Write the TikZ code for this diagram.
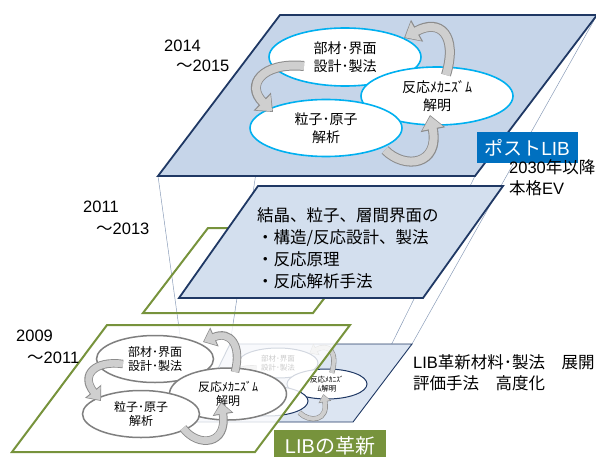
\documentclass[tikz,border=0pt]{standalone}
\usepackage{fontspec}
\setmainfont{Liberation Sans}
\newfontfamily\jp{Noto Sans CJK JP}
\usetikzlibrary{arrows.meta,shapes.geometric}
\definecolor{navy}{HTML}{1F3864}
\definecolor{topfill}{HTML}{C6D5E9}
\definecolor{midfill}{HTML}{D3DFEE}
\definecolor{ghostfill}{HTML}{DCE5F2}
\definecolor{leaf}{HTML}{77933C}
\definecolor{cyanline}{HTML}{00B0F0}
\definecolor{postblue}{HTML}{0070C0}
\definecolor{thinline}{HTML}{8A9CB8}
\definecolor{arrowedge}{HTML}{8C8C8C}
\definecolor{arrowfill}{HTML}{CFCFCF}
\definecolor{ellgrey}{HTML}{7F7F7F}
\newcommand\blockarr[2]{\draw[#1out] #2; \draw[#1in] #2;}
\begin{document}
\begin{tikzpicture}[x=1pt,y=-1pt,
  plane/.style={draw=navy, line width=1.8pt, line join=miter},
  greenplane/.style={draw=leaf, line width=2pt, line join=miter},
  thin/.style={draw=thinline, line width=0.5pt},
  topell/.style={ellipse, draw=cyanline, line width=1.6pt, fill=white, inner sep=0pt,
    minimum width=152pt, minimum height=58pt, align=center,
    font=\jp\fontsize{14}{18}\selectfont},
  botell/.style={ellipse, draw=ellgrey, line width=1.5pt, fill=white, inner sep=0pt,
    minimum width=117pt, minimum height=47pt, align=center,
    font=\jp\fontsize{12}{14.5}\selectfont},
  ghostell/.style={ellipse, draw=navy, line width=1pt, fill=white, inner sep=0pt,
    minimum width=80pt, minimum height=30pt, align=center,
    font=\jp\fontsize{7.5}{8.5}\selectfont},
  label/.style={anchor=west, inner sep=0pt, align=left, font=\fontsize{16.5}{21}\selectfont},
  toparrout/.style={line width=10pt, draw=arrowedge, -{Triangle[width=24pt,length=15pt]}},
  toparrin/.style={line width=8pt, draw=arrowfill, shorten >=1.3pt, -{Triangle[width=20.5pt,length=12.5pt]}},
  botarrout/.style={line width=8.5pt, draw=arrowedge, -{Triangle[width=20pt,length=12.5pt]}},
  botarrin/.style={line width=6.7pt, draw=arrowfill, shorten >=1.2pt, -{Triangle[width=16.8pt,length=10.3pt]}},
  gharrout/.style={line width=5.2pt, draw=arrowedge, -{Triangle[width=12.5pt,length=8pt]}},
  gharrin/.style={line width=4pt, draw=arrowfill, shorten >=0.8pt, -{Triangle[width=10.3pt,length=6.5pt]}},
]
\useasboundingbox (0,0) rectangle (596,457);
\clip (0,0) rectangle (596,457);

% corner coordinates
\coordinate (tTL) at (280,15);  \coordinate (tTR) at (597,15);
\coordinate (tBR) at (475,176); \coordinate (tBL) at (158,176);
\coordinate (gTL) at (230,344); \coordinate (gTR) at (412,344);
\coordinate (gBR) at (353,422); \coordinate (gBL) at (192,422);
\coordinate (mTL) at (258,186); \coordinate (mTR) at (503,186);
\coordinate (mBR) at (423,298); \coordinate (mBL) at (179,298);
\coordinate (nTL) at (208,228); \coordinate (nTR) at (378,228);
\coordinate (nBR) at (313,313); \coordinate (nBL) at (143,313);
\coordinate (bTL) at (107,325); \coordinate (bTR) at (350,325);
\coordinate (bBR) at (255,452); \coordinate (bBL) at (12,452);

% perspective lines
\draw[thin] (tTL) -- (gTL);
\draw[thin] (tTR) -- (gTR);
\draw[thin] (tBR) -- (gBR);
\draw[thin] (tBL) -- (gBL);

% ghost plane (projection of top plane)
\draw[draw=navy, line width=0.9pt, fill=ghostfill] (gTL) -- (gTR) -- (gBR) -- (gBL) -- cycle;
\node[ghostell] (g1) at (278,363) {部材･界面\\設計･製法};
\node[ghostell] (g2) at (327,384) {反応ﾒｶﾆｽﾞ\\ﾑ解明};
\node[ghostell] (g3) at (268,401) {粒子･原子\\解析};
\blockarr{gharr}{(256.5,368) .. controls (234.3,366) and (225.2,378.2) .. (240.1,392.5)}
\blockarr{gharr}{(299.4,412.6) .. controls (310,423.2) and (328.6,420.6) .. (323.3,394.1)}
\blockarr{gharr}{(331.8,372.9) .. controls (338.1,351.7) and (328.6,342.7) .. (309.5,353.3)}

% bottom green plane (2009-2011)
\draw[greenplane, fill=white, fill opacity=0.8] (bTL) -- (bTR) -- (bBR) -- (bBL) -- cycle;
\node[botell] (b1) at (155,359) {部材･界面\\設計･製法};
\node[botell, minimum height=52pt] (b2) at (228,394) {反応ﾒｶﾆｽﾞﾑ\\解明};
\node[botell] (b3) at (141,414) {粒子･原子\\解析};
\blockarr{botarr}{(123,364) .. controls (95,360) and (80,375) .. (101,401)}
\blockarr{botarr}{(183,428) .. controls (198,448) and (228,445) .. (221,402)}
\blockarr{botarr}{(235,372) .. controls (242,345) and (230,330) .. (203,342)}

% middle green plane (2011-2013)
\draw[greenplane] (nTL) -- (nTR) -- (nBR) -- (nBL) -- cycle;

% middle blue plane
\draw[plane, fill=midfill] (mTL) -- (mTR) -- (mBR) -- (mBL) -- cycle;
\node[anchor=west, inner sep=0pt, align=left, font=\jp\fontsize{16.5}{22}\selectfont] (midtext) at (257,248)
  {結晶、粒子、層間界面の\\・構造/反応設計、製法\\・反応原理\\・反応解析手法};

% top plane (2014-2015)
\draw[plane, fill=topfill] (tTL) -- (tTR) -- (tBR) -- (tBL) -- cycle;
\node[topell] (t1) at (345,57) {部材･界面\\設計･製法};
\node[topell] (t2) at (437,96) {反応ﾒｶﾆｽﾞﾑ\\解明};
\node[topell, minimum height=57pt] (t3) at (326,128) {粒子･原子\\解析};
\blockarr{toparr}{(304,66) .. controls (262,62) and (245,85) .. (273,112)}
\blockarr{toparr}{(385,150) .. controls (405,170) and (440,165) .. (430,115)}
\blockarr{toparr}{(446,75) .. controls (458,35) and (440,18) .. (404,38)}

% labels
\node[fill=postblue, text=white, minimum width=101pt, minimum height=31pt, inner sep=0pt,
  font=\jp\fontsize{19}{19}\selectfont] (post) at (527,147.5) {ポスト{\rmfamily LIB}};
\node[fill=leaf, text=white, minimum width=112pt, minimum height=32pt, inner sep=0pt,
  font=\jp\fontsize{20}{20}\selectfont] (libnew) at (330,446) {{\rmfamily LIB}の革新};

\node[label] (y14) at (164,46) {2014};
\node[label] (y15) at (176,66) {{\jp ～}2015};
\node[label] (y11) at (83,207) {2011};
\node[label] (y13) at (96,229) {{\jp ～}2013};
\node[label] (y09) at (16,336) {2009};
\node[label] (y11b) at (27,358) {{\jp ～}2011};
\node[label] (ev) at (509,178) {2030{\jp 年以降}\\{\jp 本格}EV};
\node[label] (libmat) at (413,373) {LIB{\jp 革新材料･製法　展開}\\{\jp 評価手法　高度化}};
\end{tikzpicture}
\end{document}
